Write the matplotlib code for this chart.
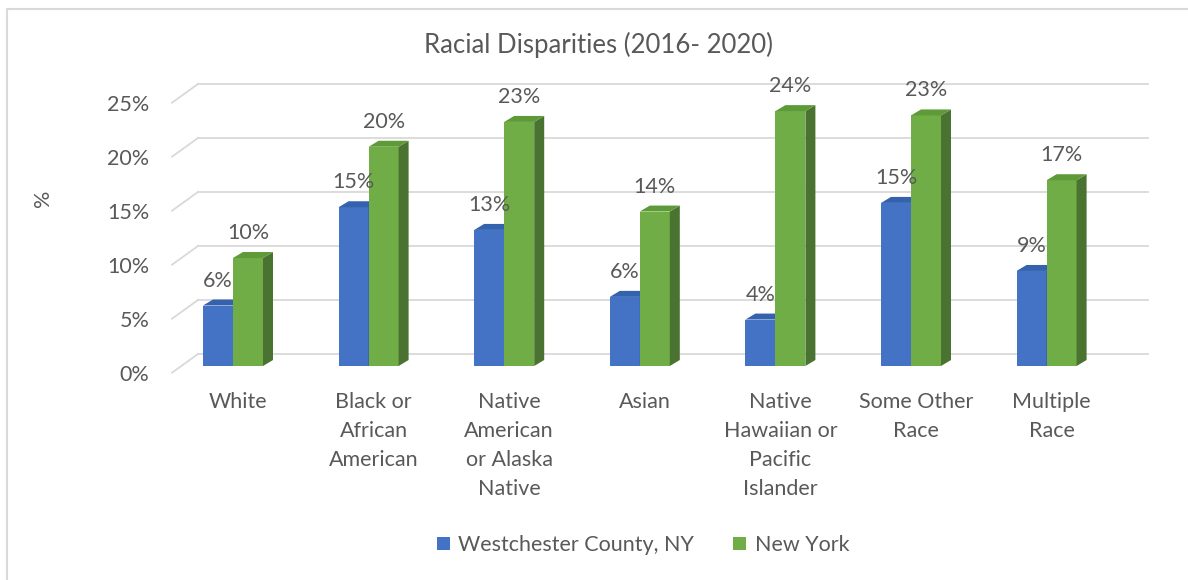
import numpy as np
import matplotlib
matplotlib.use('Agg')
import matplotlib.pyplot as plt
from matplotlib.lines import Line2D

plt.rcParams['font.family'] = ['Lato', 'DejaVu Sans']

categories = ['White', 'Black or\nAfrican\nAmerican', 'Native\nAmerican\nor Alaska\nNative', 'Asian',
              'Native\nHawaiian or\nPacific\nIslander', 'Some Other\nRace', 'Multiple\nRace']
westchester = [5.6, 14.7, 12.6, 6.4, 4.3, 15.1, 8.8]
new_york = [10.0, 20.3, 22.6, 14.3, 23.6, 23.2, 17.2]
series_names = ['Westchester County, NY', 'New York']
yticks = [0, 5, 10, 15, 20, 25]

W, H = 1188, 580
grey = '#595959'
fs = 15.5
fig = plt.figure(figsize=(W/100, H/100), dpi=100)

# pixel layout -> data scale (135.6 px per category, 10.8 px per percent)
px_cat, px_pct = 135.6, 10.8
x0_px, y0_px = 233, 366
left, right, top, bottom = 155, 1160, 80, 380
ax = fig.add_axes([left/W, 1-bottom/H, (right-left)/W, (bottom-top)/H])
ax.set_xlim((left-x0_px)/px_cat, (right-x0_px)/px_cat)
ax.set_ylim((y0_px-bottom)/px_pct, (y0_px-top)/px_pct)
for s in ax.spines.values():
    s.set_visible(False)

bw = 30/px_cat
dx, dy = 10/px_cat, 6/px_pct
off_front, off_back = 6.7/px_pct, 12/px_pct
x_front, x_back, x_end = (172-x0_px)/px_cat, (198-x0_px)/px_cat, (1148-x0_px)/px_cat

# gridlines on the back wall with a slanted bit on the floor side
for v in yticks:
    ax.plot([x_front, x_back], [v-off_front, v+off_back], color='#d9d9d9', lw=1.3, zorder=1)
    ax.plot([x_back, x_end], [v+off_back, v+off_back], color='#d9d9d9', lw=1.3, zorder=1)

x = np.arange(len(categories))
colors = [('#4472c4', '#3562ad', '#2f5597'), ('#70ad47', '#5e9a38', '#4a7230')]
handles = []
for k, vals in enumerate([westchester, new_york]):
    front, topc, side = colors[k]
    xs = x - bw + k*bw
    bars = ax.bar(xs, vals, width=bw, align='edge', color=front, zorder=3+k*2, label=series_names[k])
    handles.append(bars)
    for xl, v in zip(xs, vals):
        xr = xl + bw
        ax.fill([xr, xr+dx, xr+dx, xr], [0, dy, v+dy, v], color=side, zorder=3+k*2, lw=0)
        ax.fill([xl, xl+dx, xr+dx, xr], [v, v+dy, v+dy, v], color=topc, zorder=4+k*2, lw=0)
        ax.annotate(f'{v:.0f}%', (xl+bw/2, v), xytext=(0, 18), textcoords='offset points',
                    ha='center', va='center', fontsize=fs, color=grey, zorder=10)

ax.set_yticks([v-off_front for v in yticks])
ax.set_yticklabels([f'{v}%' for v in yticks])
ax.set_xticks(x + 5/px_cat)
ax.set_xticklabels(categories, linespacing=1.55)
ax.tick_params(axis='both', length=0, labelsize=fs, labelcolor=grey)
ax.tick_params(axis='y', pad=4)
ax.tick_params(axis='x', pad=9)

fig.text(43/W, 1-198/H, '%', rotation=90, ha='center', va='center', fontsize=fs, color=grey)
fig.text(598/W, 1-45/H, 'Racial Disparities (2016- 2020)', ha='center', va='center', fontsize=18.5, color=grey)

fig.legend(handles=handles, labels=series_names, loc='center', bbox_to_anchor=(643/W, 1-545/H),
           ncol=2, frameon=False, fontsize=fs, handlelength=0.6, handleheight=0.6,
           handletextpad=0.4, columnspacing=1.8, labelcolor=grey)

# chart area border
fig.add_artist(Line2D([7/W, 7/W, 1], [0, 1-9/H, 1-9/H], transform=fig.transFigure, color='#d9d9d9', lw=1.5))

fig.savefig('out.png', dpi=100)
